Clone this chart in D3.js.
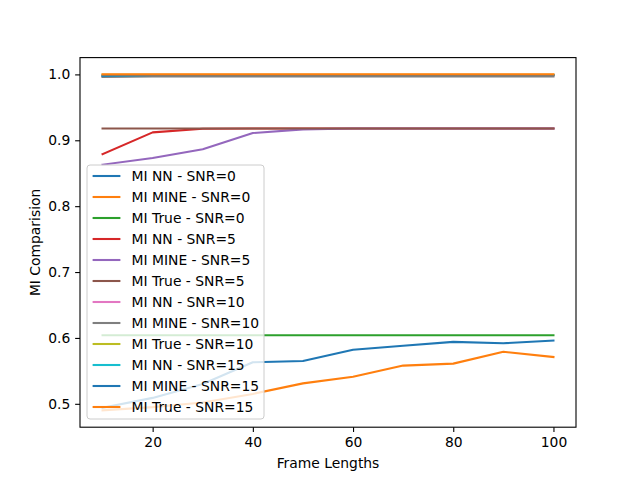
<!DOCTYPE html>
<html>
<head>
<meta charset="utf-8">
<script src="https://cdn.jsdelivr.net/npm/d3@7"></script>
<style>
  html, body { margin: 0; padding: 0; background: #fff; }
  svg text { font-family: "DejaVu Sans", sans-serif; fill: #000; }
</style>
</head>
<body>
<div id="chart"></div>
<script>
// Frame lengths on the x axis
const frameLengths = [10, 20, 30, 40, 50, 60, 70, 80, 90, 100];

// SNR = 0
const nnSnr0   = [0.494, 0.509, 0.530, 0.563, 0.565, 0.582, 0.588, 0.594, 0.592, 0.596];
const mineSnr0 = [0.490, 0.495, 0.502, 0.515, 0.531, 0.541, 0.558, 0.561, 0.579, 0.571];
const trueSnr0 = [0.604, 0.604, 0.604, 0.604, 0.604, 0.604, 0.604, 0.604, 0.604, 0.604];

// SNR = 5
const nnSnr5   = [0.879, 0.912, 0.9175, 0.918, 0.918, 0.918, 0.918, 0.918, 0.918, 0.918];
const mineSnr5 = [0.863, 0.873, 0.8865, 0.911, 0.9165, 0.918, 0.918, 0.918, 0.918, 0.918];
const trueSnr5 = [0.918, 0.918, 0.918, 0.918, 0.918, 0.918, 0.918, 0.918, 0.918, 0.918];

// SNR = 10
const nnSnr10   = [0.997, 0.998, 0.998, 0.998, 0.998, 0.998, 0.998, 0.998, 0.998, 0.998];
const mineSnr10 = [0.996, 0.997, 0.997, 0.997, 0.997, 0.997, 0.997, 0.997, 0.997, 0.997];
const trueSnr10 = [0.9995, 0.9995, 0.9995, 0.9995, 0.9995, 0.9995, 0.9995, 0.9995, 0.9995, 0.9995];

// SNR = 15
const nnSnr15   = [0.998, 0.999, 0.999, 0.999, 0.999, 0.999, 0.999, 0.999, 0.999, 0.999];
const mineSnr15 = [0.998, 0.999, 0.999, 0.999, 0.999, 0.999, 0.999, 0.999, 0.999, 0.999];
const trueSnr15 = [1.0, 1.0, 1.0, 1.0, 1.0, 1.0, 1.0, 1.0, 1.0, 1.0];

const seriesLabels = [
  'MI NN - SNR=0', 'MI MINE - SNR=0', 'MI True - SNR=0',
  'MI NN - SNR=5', 'MI MINE - SNR=5', 'MI True - SNR=5',
  'MI NN - SNR=10', 'MI MINE - SNR=10', 'MI True - SNR=10',
  'MI NN - SNR=15', 'MI MINE - SNR=15', 'MI True - SNR=15'
];
const seriesValues = [
  nnSnr0, mineSnr0, trueSnr0,
  nnSnr5, mineSnr5, trueSnr5,
  nnSnr10, mineSnr10, trueSnr10,
  nnSnr15, mineSnr15, trueSnr15
];

const xTicks = [20, 40, 60, 80, 100];
const yTicks = [0.5, 0.6, 0.7, 0.8, 0.9, 1.0];

// matplotlib tab10 cycle
const palette = ['#1f77b4', '#ff7f0e', '#2ca02c', '#d62728', '#9467bd',
                 '#8c564b', '#e377c2', '#7f7f7f', '#bcbd22', '#17becf'];

const width = 640, height = 480;
const margin = { left: 80, right: 64, top: 57.6, bottom: 52.8 };
const fontSize = 13.89;

const svg = d3.select('#chart')
  .append('svg')
  .attr('width', width)
  .attr('height', height);

// domains with matplotlib's 5% margins
const allVals = seriesValues.flat();
const yMin = d3.min(allVals), yMax = d3.max(allVals);
const yPad = (yMax - yMin) * 0.05;
const xPad = (d3.max(frameLengths) - d3.min(frameLengths)) * 0.05;

const x = d3.scaleLinear()
  .domain([d3.min(frameLengths) - xPad, d3.max(frameLengths) + xPad])
  .range([margin.left, width - margin.right]);

const y = d3.scaleLinear()
  .domain([yMin - yPad, yMax + yPad])
  .range([height - margin.bottom, margin.top]);

// lines
const line = d3.line()
  .x((d, i) => x(frameLengths[i]))
  .y(d => y(d));

const plot = svg.append('g').attr('class', 'lines');
seriesValues.forEach((vals, i) => {
  plot.append('path')
    .datum(vals)
    .attr('d', line)
    .attr('fill', 'none')
    .attr('stroke', palette[i % palette.length])
    .attr('stroke-width', 2.08)
    .attr('stroke-linejoin', 'round')
    .attr('stroke-linecap', 'square');
});

// axes
const xAxis = d3.axisBottom(x).tickValues(xTicks).tickSize(4.86).tickPadding(4.86)
  .tickFormat(d3.format('d'));
const yAxis = d3.axisLeft(y).tickValues(yTicks).tickSize(4.86).tickPadding(4.86)
  .tickFormat(d3.format('.1f'));

const gx = svg.append('g')
  .attr('transform', `translate(0,${height - margin.bottom})`)
  .call(xAxis);
const gy = svg.append('g')
  .attr('transform', `translate(${margin.left},0)`)
  .call(yAxis);

[gx, gy].forEach(g => {
  g.select('.domain').remove();
  g.selectAll('.tick line').attr('stroke', '#000').attr('stroke-width', 1.1);
  g.selectAll('.tick text').style('font-size', fontSize + 'px')
    .style('font-family', '"DejaVu Sans", sans-serif');
});

// frame
svg.append('rect')
  .attr('x', margin.left)
  .attr('y', margin.top)
  .attr('width', width - margin.left - margin.right)
  .attr('height', height - margin.top - margin.bottom)
  .attr('fill', 'none')
  .attr('stroke', '#000')
  .attr('stroke-width', 1.1);

// axis labels
svg.append('text')
  .attr('x', (margin.left + width - margin.right) / 2)
  .attr('y', 468)
  .attr('text-anchor', 'middle')
  .style('font-size', fontSize + 'px')
  .text('Frame Lengths');

svg.append('text')
  .attr('transform', `translate(40,${(margin.top + height - margin.bottom) / 2}) rotate(-90)`)
  .attr('text-anchor', 'middle')
  .style('font-size', fontSize + 'px')
  .text('MI Comparision');

// legend
const legendX = 87, legendTop = 165, rowGap = 21;
const legend = svg.append('g').attr('class', 'legend');
legend.append('rect')
  .attr('x', legendX)
  .attr('y', legendTop)
  .attr('width', 177)
  .attr('height', 254)
  .attr('rx', 3)
  .attr('fill', '#fff')
  .attr('fill-opacity', 0.8)
  .attr('stroke', '#cccccc')
  .attr('stroke-width', 1);

seriesLabels.forEach((label, i) => {
  const cy = legendTop + 11 + i * rowGap;
  legend.append('line')
    .attr('x1', legendX + 5.6)
    .attr('x2', legendX + 33.4)
    .attr('y1', cy)
    .attr('y2', cy)
    .attr('stroke', palette[i % palette.length])
    .attr('stroke-width', 2.08);
  legend.append('text')
    .attr('x', legendX + 44.5)
    .attr('y', cy)
    .attr('dy', '0.36em')
    .style('font-size', fontSize + 'px')
    .text(label);
});
</script>
</body>
</html>
